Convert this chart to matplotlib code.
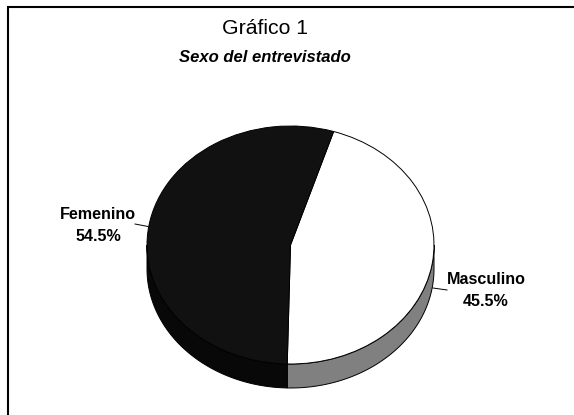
import numpy as np
import matplotlib
matplotlib.use("Agg")
import matplotlib.pyplot as plt
from matplotlib.patches import Polygon

plt.rcParams['font.family'] = ['Liberation Sans', 'DejaVu Sans']

categories = ["Masculino", "Femenino"]
values = [45.5, 54.5]
top_colors = ["#ffffff", "#111111"]
side_colors = ["#808080", "#080808"]
title = "Gráfico 1"
subtitle = "Sexo del entrevistado"

W, H = 574, 415
def fx(p): return p / W
def fy(p): return 1 - p / H

fig = plt.figure(figsize=(W / 100, H / 100), dpi=100)
fig.patch.set_facecolor("white")
# frame: only the top and left edges fall inside the picture
fig.add_artist(plt.Line2D([fx(8), fx(8), 1], [0, fy(7), fy(7)], color="black", lw=1.5,
                          solid_joinstyle="miter", solid_capstyle="butt"))

# pie axes: ellipse centre (290.5, 245), radii 143.5 x 119 px
cx, cy, rx, ry = 290.5, 245, 143.5, 119
ax = fig.add_axes([(cx - rx * 1.25) / W, 1 - (cy + ry * 1.25) / H, 2.5 * rx / W, 2.5 * ry / H])
start = 72.5
depth = 24 / ry

# side walls: each slice's share of the front half (-180..0 degrees)
edges = start - np.cumsum([0] + values) * 3.6
for i in range(len(values)):
    hi, lo = edges[i], edges[i + 1]
    a, b = max(lo, -180), min(hi, 0)
    th = np.radians(np.linspace(a, b, 120))
    x, y = np.cos(th), np.sin(th)
    pts = np.r_[np.c_[x, y], np.c_[x[::-1], y[::-1] - depth]]
    ax.add_patch(Polygon(pts, closed=True, fc=side_colors[i], ec="black", lw=0.7, zorder=1))

wedges, _ = ax.pie(values, colors=top_colors, startangle=start, counterclock=False, radius=1,
                   wedgeprops=dict(ec="black", lw=0.7))
for w in wedges:
    w.set_zorder(2)
ax.set_aspect("auto")
ax.set_xlim(-1.25, 1.25)
ax.set_ylim(-1.25, 1.25)
ax.axis("off")

def pct(v):
    return f"{v:.1f}%"

fig.add_artist(plt.Line2D([fx(135), fx(148)], [fy(224), fy(226.5)], color="black", lw=0.7, zorder=5))
fig.add_artist(plt.Line2D([fx(433), fx(447)], [fy(288), fy(290)], color="black", lw=0.7, zorder=5))
fig.text(fx(98), fy(225.5), f"{categories[1]}\n{pct(values[1])}", ha="center", va="center",
         fontsize=11.6, fontweight="bold", linespacing=1.65)
fig.text(fx(486), fy(290.5), f"{categories[0]}\n{pct(values[0])}", ha="center", va="center",
         fontsize=11.6, fontweight="bold", linespacing=1.65)

fig.text(fx(264.5), fy(28), title, ha="center", va="center", fontsize=15.3)
fig.text(fx(265), fy(57), subtitle, ha="center", va="center", fontsize=12,
         fontweight="bold", fontstyle="italic")

fig.savefig("out.png", dpi=100)
